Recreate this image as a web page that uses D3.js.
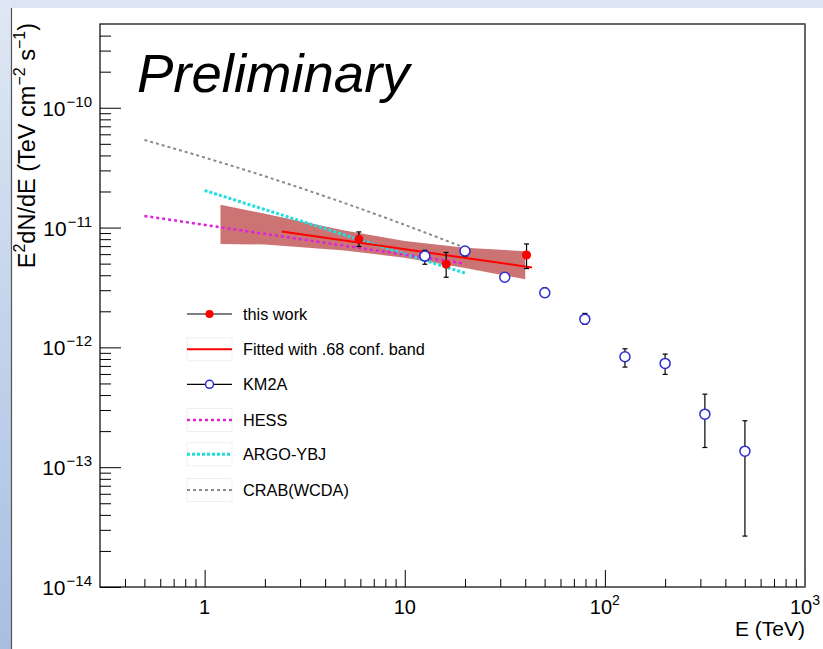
<!DOCTYPE html>
<html>
<head>
<meta charset="utf-8">
<script src="https://cdn.jsdelivr.net/npm/d3@7"></script>
<style>
  html, body { margin: 0; padding: 0; background: #fff; }
  svg { display: block; font-family: "Liberation Sans", Arial, Helvetica, sans-serif; }
</style>
</head>
<body>
<svg id="chart" width="823" height="649"></svg>
<script>
// ---- this work: flux points (E in TeV, E^2 dN/dE in TeV cm^-2 s^-1) ----
const thisWorkE  = [5.9, 16.1, 40.6];
const thisWorkF  = [8.0e-12, 4.95e-12, 5.9e-12];
const thisWorkHi = [9.2e-12, 6.2e-12, 7.3e-12];
const thisWorkLo = [6.95e-12, 3.85e-12, 4.55e-12];

// ---- power-law fit and its 68% confidence band ----
const fitE   = [2.43, 43.2];
const fitF   = [9.26e-12, 4.64e-12];
const bandE  = [1.2, 2, 5, 10, 20, 40];
const bandHi = [1.55e-11, 1.305e-11, 9.45e-12, 7.74e-12, 6.77e-12, 6.35e-12];
const bandLo = [7.3e-12, 7.22e-12, 6.42e-12, 5.61e-12, 4.60e-12, 3.7e-12];

// ---- KM2A points ----
const km2aE  = [12.6, 20.0, 31.6, 50.1, 79.4, 126, 200, 316, 501];
const km2aF  = [5.78e-12, 6.37e-12, 3.85e-12, 2.86e-12, 1.72e-12, 8.35e-13, 7.35e-13, 2.77e-13, 1.36e-13];
const km2aHi = [6.46e-12, 6.87e-12, 4.06e-12, 3.14e-12, 1.92e-12, 9.73e-13, 8.79e-13, 4.07e-13, 2.44e-13];
const km2aLo = [4.94e-12, 5.78e-12, 3.65e-12, 2.62e-12, 1.556e-12, 6.85e-13, 5.95e-13, 1.46e-13, 2.66e-14];

// ---- reference spectra ----
const hessE = [0.5, 20];
const hessF = [1.25e-11, 5.0e-12];
const argoE = [1, 20];
const argoF = [2.04e-11, 4.17e-12];
const crabE = [0.5, 1, 2, 5, 10, 20];
const crabF = [5.38e-11, 3.84e-11, 2.68e-11, 1.60e-11, 1.053e-11, 6.77e-12];

// ---- axes ----
const xDomain = [0.3, 1000];
const yDomain = [1e-14, 5e-10];
const xTickValues = [1, 10, 100, 1000];
const xTickBase   = ["1", "10", "10", "10"];
const xTickExp    = ["", "", "2", "3"];
const yTickValues = [1e-14, 1e-13, 1e-12, 1e-11, 1e-10];
const yTickExp    = ["\u221214", "\u221213", "\u221212", "\u221211", "\u221210"];

const legendLabels = ["this work", "Fitted with .68 conf. band", "KM2A", "HESS", "ARGO-YBJ", "CRAB(WCDA)"];

// ------------------------------------------------------------------
const svg = d3.select("#chart");
const W = 823, H = 649;
const frame = { left: 100, right: 805, top: 24, bottom: 587 };

// window decoration
const defs = svg.append("defs");
const grad = defs.append("linearGradient").attr("id", "side").attr("x1", 0).attr("y1", 0).attr("x2", 0).attr("y2", 1);
grad.append("stop").attr("offset", "0%").attr("stop-color", "#dfe8f4");
grad.append("stop").attr("offset", "100%").attr("stop-color", "#a8bfe2");
svg.append("rect").attr("x", 0).attr("y", 0).attr("width", W).attr("height", H).attr("fill", "#fff");
svg.append("rect").attr("x", 0).attr("y", 0).attr("width", W).attr("height", 8).attr("fill", "#dce6f2");
svg.append("rect").attr("x", 0).attr("y", 0).attr("width", 11).attr("height", H).attr("fill", "url(#side)");
svg.append("line").attr("x1", 11.5).attr("x2", 11.5).attr("y1", 8).attr("y2", H).attr("stroke", "#555").attr("stroke-width", 1.2);

const x = d3.scaleLog().domain(xDomain).range([frame.left, frame.right]);
const y = d3.scaleLog().domain(yDomain).range([frame.bottom, frame.top]);

// minor ticks 2..9 per decade
function minorTicks(lo, hi) {
  const out = [];
  for (let d = Math.floor(Math.log10(lo)); d <= Math.ceil(Math.log10(hi)); d++) {
    for (let m = 2; m <= 9; m++) {
      const v = m * Math.pow(10, d);
      if (v > lo * 1.001 && v < hi * 0.999) out.push(v);
    }
  }
  return out;
}

const clip = defs.append("clipPath").attr("id", "plotclip");
clip.append("rect").attr("x", frame.left).attr("y", frame.top)
  .attr("width", frame.right - frame.left).attr("height", frame.bottom - frame.top);

// x axis
const xMinor = minorTicks(xDomain[0], xDomain[1]);
const gx = svg.append("g").attr("transform", `translate(0,${frame.bottom})`)
  .call(d3.axisBottom(x).tickValues(xTickValues.concat(xMinor)).tickSize(-17).tickFormat(() => ""));
gx.select(".domain").remove();
gx.selectAll(".tick line").attr("stroke", "#000").attr("stroke-width", 1)
  .attr("y2", d => xTickValues.includes(d) ? -17 : -8);

// y axis
const yMinor = minorTicks(yDomain[0], yDomain[1]);
const gy = svg.append("g").attr("transform", `translate(${frame.left},0)`)
  .call(d3.axisLeft(y).tickValues(yTickValues.concat(yMinor)).tickSize(-21).tickFormat(() => ""));
gy.select(".domain").remove();
gy.selectAll(".tick line").attr("stroke", "#000").attr("stroke-width", 1)
  .attr("x2", d => yTickValues.includes(d) ? 21 : 11);

// frame
svg.append("rect").attr("x", frame.left).attr("y", frame.top)
  .attr("width", frame.right - frame.left).attr("height", frame.bottom - frame.top)
  .attr("fill", "none").attr("stroke", "#000").attr("stroke-width", 1.2);
svg.append("line").attr("x1", frame.right).attr("x2", frame.right)
  .attr("y1", frame.top).attr("y2", frame.bottom).attr("stroke", "#666").attr("stroke-width", 1.8);

// tick labels
xTickValues.forEach((v, i) => {
  const t = svg.append("text").attr("x", x(v)).attr("y", 614)
    .attr("text-anchor", "middle").attr("font-size", 20).attr("fill", "#000");
  t.append("tspan").text(xTickBase[i]);
  if (xTickExp[i]) t.append("tspan").attr("font-size", 14).attr("dy", -9).text(xTickExp[i]);
});
yTickValues.forEach((v, i) => {
  const t = svg.append("text").attr("x", 92).attr("y", y(v) + 8)
    .attr("text-anchor", "end").attr("font-size", 21).attr("fill", "#000");
  t.append("tspan").text("10");
  t.append("tspan").attr("font-size", 15).attr("dx", 1).attr("dy", -9).text(yTickExp[i]);
});

// axis titles
svg.append("text").attr("x", frame.right).attr("y", 636).attr("text-anchor", "end")
  .attr("font-size", 21).text("E (TeV)");
const yt = svg.append("text").attr("transform", `translate(35,${frame.top - 1}) rotate(-90)`)
  .attr("text-anchor", "end").attr("font-size", 23.5);
yt.append("tspan").text("E");
yt.append("tspan").attr("font-size", 16).attr("dy", -10).text("2");
yt.append("tspan").attr("dy", 10).text("dN/dE (TeV cm");
yt.append("tspan").attr("font-size", 16).attr("dy", -10).text("\u22122");
yt.append("tspan").attr("dy", 10).text(" s");
yt.append("tspan").attr("font-size", 16).attr("dy", -10).text("\u22121");
yt.append("tspan").attr("dy", 10).text(")");

// Preliminary
svg.append("text").attr("x", 137).attr("y", 92).attr("font-size", 54.5)
  .attr("font-style", "italic").attr("fill", "#000").text("Preliminary");

const plot = svg.append("g").attr("clip-path", "url(#plotclip)");
const line = d3.line().x(d => x(d[0])).y(d => y(d[1]));

// confidence band
const bandArea = d3.area().x(d => x(d[0])).y0(d => y(d[2])).y1(d => y(d[1]));
plot.append("path").datum(bandE.map((e, i) => [e, bandHi[i], bandLo[i]]))
  .attr("d", bandArea).attr("fill", "#cc7474");

// reference spectra
plot.append("path").datum(crabE.map((e, i) => [e, crabF[i]]))
  .attr("d", line.curve(d3.curveMonotoneX)).attr("fill", "none")
  .attr("stroke", "#8a8a8a").attr("stroke-width", 2).attr("stroke-dasharray", "3 3");
line.curve(d3.curveLinear);
plot.append("path").datum(argoE.map((e, i) => [e, argoF[i]]))
  .attr("d", line).attr("fill", "none")
  .attr("stroke", "#22dede").attr("stroke-width", 3).attr("stroke-dasharray", "3 2");
plot.append("path").datum(hessE.map((e, i) => [e, hessF[i]]))
  .attr("d", line).attr("fill", "none")
  .attr("stroke", "#dd22dd").attr("stroke-width", 2.5).attr("stroke-dasharray", "3 3");

// fit line
plot.append("path").datum(fitE.map((e, i) => [e, fitF[i]]))
  .attr("d", line).attr("fill", "none").attr("stroke", "#f00").attr("stroke-width", 2);

// error bars
function errorBars(E, Hi, Lo) {
  const g = plot.append("g").attr("stroke", "#000").attr("stroke-width", 1.2);
  E.forEach((e, i) => {
    const cx = x(e);
    g.append("line").attr("x1", cx).attr("x2", cx).attr("y1", y(Hi[i])).attr("y2", y(Lo[i]));
    g.append("line").attr("x1", cx - 2.5).attr("x2", cx + 2.5).attr("y1", y(Hi[i])).attr("y2", y(Hi[i]));
    g.append("line").attr("x1", cx - 2.5).attr("x2", cx + 2.5).attr("y1", y(Lo[i])).attr("y2", y(Lo[i]));
  });
}
errorBars(km2aE, km2aHi, km2aLo);
errorBars(thisWorkE, thisWorkHi, thisWorkLo);

plot.append("g").selectAll("circle").data(km2aE).join("circle")
  .attr("cx", d => x(d)).attr("cy", (d, i) => y(km2aF[i])).attr("r", 5)
  .attr("fill", "#fff").attr("stroke", "#2b2bd0").attr("stroke-width", 1.5);
plot.append("g").selectAll("circle").data(thisWorkE).join("circle")
  .attr("cx", d => x(d)).attr("cy", (d, i) => y(thisWorkF[i])).attr("r", 4.5)
  .attr("fill", "#f00");

// legend
const legRows = [314, 349.3, 384.3, 420, 454.3, 490];
const leg = svg.append("g");
legendLabels.forEach((lab, i) => {
  const yy = legRows[i];
  if (i !== 0 && i !== 2) {
    leg.append("rect").attr("x", 187).attr("y", yy - 11.5).attr("width", 45).attr("height", 23)
      .attr("fill", "none").attr("stroke", "#f0f0f0").attr("stroke-width", 1);
  }
  const s = leg.append("line").attr("x1", 187).attr("x2", 232).attr("y1", yy).attr("y2", yy);
  if (i === 0 || i === 2) s.attr("stroke", "#000").attr("stroke-width", 1.2);
  if (i === 1) s.attr("stroke", "#f00").attr("stroke-width", 2);
  if (i === 3) s.attr("stroke", "#dd22dd").attr("stroke-width", 2.5).attr("stroke-dasharray", "3 3");
  if (i === 4) s.attr("stroke", "#22dede").attr("stroke-width", 3).attr("stroke-dasharray", "3 2");
  if (i === 5) s.attr("stroke", "#8a8a8a").attr("stroke-width", 2).attr("stroke-dasharray", "3 3");
  if (i === 0) leg.append("circle").attr("cx", 209.5).attr("cy", yy).attr("r", 4).attr("fill", "#f00");
  if (i === 2) leg.append("circle").attr("cx", 209.5).attr("cy", yy).attr("r", 4)
    .attr("fill", "#fff").attr("stroke", "#2b2bd0").attr("stroke-width", 1.5);
  leg.append("text").attr("x", 243).attr("y", yy + 6).attr("font-size", 16.3).attr("fill", "#000").text(lab);
});
</script>
</body>
</html>
